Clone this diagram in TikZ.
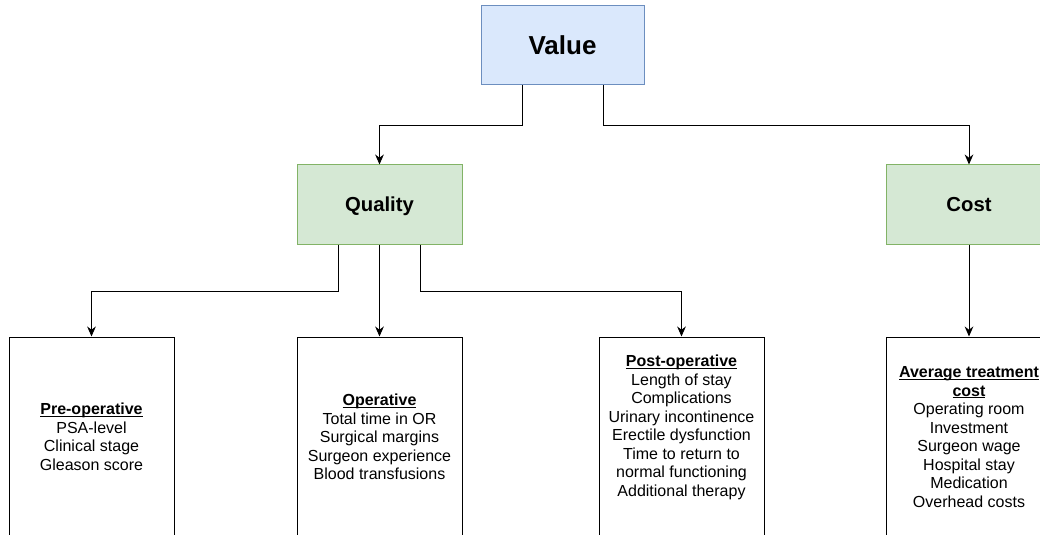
\documentclass[tikz,border=0pt]{standalone}
\usepackage{fontspec}
\setmainfont{Liberation Sans}
\usetikzlibrary{calc,arrows.meta}
\definecolor{vfill}{HTML}{DAE8FC}
\definecolor{vdraw}{HTML}{6C8EBF}
\definecolor{gfill}{HTML}{D5E8D4}
\definecolor{gdraw}{HTML}{82B366}
\newlength\myulw
\newcommand\myul[1]{\settowidth{\myulw}{#1}\rlap{\rule[-1.5pt]{\myulw}{0.6pt}}#1}
\begin{document}
\begin{tikzpicture}[x=0.75pt,y=-0.75pt,
  topbox/.style={draw=vdraw,fill=vfill,line width=0.75pt,minimum width=122.25pt,minimum height=59.25pt,inner sep=0pt,text height=14pt,text depth=0pt,font=\fontsize{19.5}{23}\selectfont\bfseries},
  midbox/.style={draw=gdraw,fill=gfill,line width=0.75pt,minimum width=123.75pt,minimum height=59.25pt,inner sep=0pt,text height=10.9pt,text depth=0pt,font=\fontsize{15.2}{18}\selectfont\bfseries},
  lowbox/.style={draw=black,fill=white,line width=0.75pt,minimum width=123.75pt,minimum height=150pt,inner sep=0pt},
  txt/.style={align=center,inner sep=0pt,font=\fontsize{12}{13.9}\selectfont},
  conn/.style={draw=black,line width=0.75pt,-{Stealth[length=7.5pt,width=6.5pt]}}]
\useasboundingbox (0,0) rectangle (1040,535);
\clip (0,0) rectangle (1040,535);
\fill[white] (0,0) rectangle (1040,535);
\node[topbox] (V) at (562.5,45.5) {Value};
\node[midbox] (Q) at (379.5,204.5) {Quality};
\node[midbox] (C) at (969,204.5) {Cost};
\node[lowbox] (P) at (91.5,437) {};
\node[lowbox] (O) at (379.5,437) {};
\node[lowbox] (Po) at (681.5,437) {};
\node[lowbox] (A) at (969,437) {};
\node[txt] (Pt) at (91.5,437) {\myul{\textbf{Pre-operative}}\\PSA-level\\Clinical stage\\Gleason score};
\node[txt] (Ot) at (379.5,437) {\myul{\textbf{Operative}}\\Total time in OR\\Surgical margins\\Surgeon experience\\Blood transfusions};
\node[txt] (Pot) at (681.5,427.5) {\myul{\textbf{Post-operative}}\\Length of stay\\Complications\\Urinary incontinence\\Erectile dysfunction\\Time to return to\\normal functioning\\Additional therapy};
\node[txt] (At) at (969,437) {\myul{\textbf{Average treatment}}\\\myul{\textbf{cost}}\\Operating room\\Investment\\Surgeon wage\\Hospital stay\\Medication\\Overhead costs};
\draw[conn] ($(V.south)+(-40.5,0)$) -- ++(0,40) -| (Q.north);
\draw[conn] ($(V.south)+(40.5,0)$) -- ++(0,40) -| (C.north);
\draw[conn] ($(Q.south)+(-41.5,0)$) -- ++(0,47) -| (P.north);
\draw[conn] (Q.south) -- (O.north);
\draw[conn] ($(Q.south)+(41,0)$) -- ++(0,47) -| (Po.north);
\draw[conn] (C.south) -- (A.north);
\end{tikzpicture}
\end{document}
